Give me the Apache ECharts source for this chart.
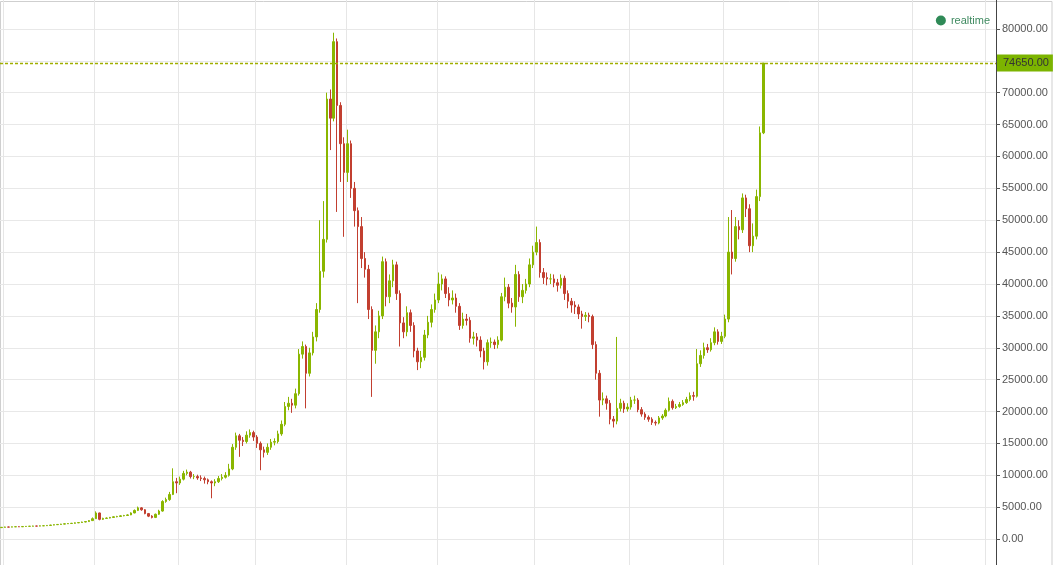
<!DOCTYPE html>
<html>
<head>
<meta charset="utf-8">
<script src="https://cdn.jsdelivr.net/npm/echarts@6/dist/echarts.min.js"></script>
<style>
html,body{margin:0;padding:0;background:#fff;overflow:hidden;width:1055px;height:565px;}
#chart{position:absolute;left:0;top:-3px;width:1055px;height:574px;}
</style>
</head>
<body>
<div id="chart"></div>
<script>
// ---- data ----
const seriesName = 'realtime';
const firstOpen = 1800;
const closes = [
1850,1900,1880,1920,1950,1930,1980,2000,2020,2050,
2040,2080,2100,2150,2200,2260,2300,2350,2400,2450,
2480,2550,2600,2680,2750,2900,3200,4100,3100,3250,
3300,3400,3500,3550,3650,3700,3800,4100,4500,4900,
4600,4000,3600,3400,3900,4400,5900,6200,7000,9000,
8800,9400,10300,10500,9800,9800,9600,9500,9300,9000,
8800,9000,9500,9700,10000,11000,14400,16200,15500,15300,
16300,16700,16000,15000,14000,13600,14400,15200,15300,16500,
18000,20800,21300,21000,22800,29000,30200,26000,29200,31700,
36000,42000,47000,69000,66000,78000,68000,62000,57500,62000,
55000,51500,49000,44000,42300,36000,29600,32500,35000,43500,
38000,40500,43000,38500,33900,32500,35500,33500,29500,27800,
28500,32000,34000,36000,37500,40000,40800,38500,37500,37800,
36500,33500,34500,34300,31500,31700,31200,29500,27800,30800,
30900,30500,31200,38000,39500,37000,36400,41500,38000,39000,
40000,43000,45000,46500,41800,41000,40800,40800,40200,39800,
40900,38500,37300,36700,36400,35300,34900,35100,34900,30500,
26000,21800,22000,21300,18800,18500,20500,21300,20400,20700,
21800,21800,20300,19600,19100,18800,18300,18200,19000,19300,
20200,21600,20600,20800,21100,21400,21900,22500,22400,27500,
28800,30000,29700,30800,32500,31000,31800,34500,45000,44000,
49000,48500,53500,51800,46000,47500,53700,63700,74650
];
const highs = [
1900,1950,1940,1960,1990,1990,2020,2050,2070,2100,
2090,2130,2150,2200,2250,2310,2360,2400,2460,2510,
2540,2610,2660,2740,2820,2980,3400,4350,4150,3350,
3400,3480,3580,3650,3750,3800,3900,4200,4650,5100,
5000,4700,4100,3750,4000,4600,6100,6500,7400,11100,
9600,9800,10700,10900,10700,10200,10100,10000,9800,9500,
9200,9400,9900,10200,10500,11800,14900,16700,16500,16000,
16900,17200,17000,16300,15300,14500,15000,15700,15800,17000,
18600,21500,22300,22000,23600,29800,31000,30500,30000,32500,
37000,50000,53000,70000,70500,79400,78500,68500,63000,64200,
62500,56000,52000,50500,45000,43000,36500,33500,35800,44300,
44000,41500,43800,43500,39000,34800,36500,36000,34000,30000,
29500,32800,35000,36800,38500,41800,41500,41200,39500,39000,
38500,37000,35500,35300,34800,32500,32300,31800,30000,31300,
31600,31300,31800,38600,41000,40000,37800,43000,42000,40000,
40800,44000,46000,49000,47000,42500,41800,41600,41500,40800,
41500,41300,39000,37800,37300,36800,35800,35600,35500,35200,
31000,26500,23000,22500,21800,19300,31700,22000,21700,21300,
22300,22500,22100,20700,19900,19400,19100,18600,19300,19600,
20500,22200,21900,21200,21500,21800,22300,23000,23100,29800,
29600,30800,30600,31500,33200,32900,32500,35200,50500,51600,
50500,50000,54200,54000,52500,49500,54800,64700,74650
];
const lows = [
1780,1820,1850,1860,1900,1900,1910,1960,1980,2000,
2010,2020,2050,2080,2120,2170,2230,2270,2320,2370,
2410,2440,2510,2560,2640,2700,2850,3150,2950,3000,
3180,3250,3350,3420,3480,3580,3650,3750,4050,4400,
4450,3900,3450,3250,3300,3800,4300,5700,6000,6900,
7200,8500,9200,10000,9500,9400,9300,9100,8700,8600,
6400,8300,8800,9200,9500,9800,10800,14000,12900,14600,
15000,15900,15400,14300,10800,12800,13200,14000,14700,15000,
16200,17700,20200,19800,20500,22500,28300,20500,25500,28800,
31000,35500,41000,46500,61000,65500,51300,56000,47400,56000,
53500,49000,37000,42500,41000,34500,22300,27500,31500,34500,
36500,37000,39500,37500,30200,31500,31800,32500,28500,26500,
26800,28000,31500,33200,35500,37000,39000,37800,36500,36800,
35500,32800,33000,33500,30800,30500,30200,28500,26600,27200,
30000,29800,29900,31000,37300,36200,35500,33300,37200,37000,
38500,39500,42500,44500,41000,40000,39800,40000,39500,38800,
39300,37500,36200,35500,35300,34500,33000,34200,34000,29800,
25000,19200,21000,20300,18000,17500,18000,20000,19800,20000,
20300,21200,19900,19200,18700,18400,17900,17800,18000,18700,
19100,20000,20300,20400,20600,20900,21200,21600,21700,22200,
27000,28300,29200,29400,30400,30500,30600,31500,34000,41500,
43500,47000,48000,50500,45000,45000,47000,53000,63500
];
const totalSlots = 285;               // width of the time axis in candle slots
const yTicks = {min: -5000, max: 85000, step: 5000};
const lastPrice = 74650;
const splitSlots = [1, 27, 51, 73, 99, 125, 153, 180, 207, 234, 261, 282];

// ---- build ----
const opens = [firstOpen].concat(closes.slice(0, closes.length - 1));
const categories = [];
for (let i = 0; i < totalSlots; i++) categories.push(String(i));
const ohlc = closes.map((c, i) => [opens[i], c, lows[i], highs[i]]);
const splitSet = new Set(splitSlots);
const FONT = 'Liberation Sans, Arial, sans-serif';

const chart = echarts.init(document.getElementById('chart'), null, {renderer: 'canvas'});
chart.setOption({
  animation: false,
  backgroundColor: '#ffffff',
  textStyle: {fontFamily: FONT},
  graphic: [{
    type: 'rect', silent: true, z: 0,
    shape: {x: 0.5, y: 4.5, width: 1051.5, height: 600},
    style: {fill: 'none', stroke: '#cfcfcf', lineWidth: 1}
  }],
  legend: {
    data: [{name: seriesName, icon: 'circle', itemStyle: {color: '#2f8a57', borderWidth: 0}}],
    right: 60, top: 13,
    itemWidth: 10, itemHeight: 10, itemGap: 4,
    textStyle: {color: '#3f8a60', fontSize: 11, fontFamily: FONT}
  },
  grid: {left: 0, right: 59, top: 0, bottom: 0, containLabel: false},
  xAxis: {
    type: 'category',
    data: categories,
    boundaryGap: true,
    axisLine: {show: false},
    axisTick: {show: false},
    axisLabel: {show: false},
    splitLine: {
      show: true,
      interval: function (index) { return splitSet.has(index); },
      lineStyle: {color: '#e6e6e6', width: 1}
    }
  },
  yAxis: {
    type: 'value',
    position: 'right',
    min: yTicks.min, max: yTicks.max, interval: yTicks.step,
    axisLine: {show: true, lineStyle: {color: '#444', width: 1}},
    axisTick: {show: true, length: 4, lineStyle: {color: '#555'}},
    axisLabel: {
      color: '#555', fontSize: 11, margin: 6, fontFamily: FONT,
      formatter: function (v) { return (v < 0 || v > 80000) ? '' : v.toFixed(2); }
    },
    splitLine: {show: true, lineStyle: {color: '#e8e8e8', width: 1}}
  },
  series: [{
    name: seriesName,
    type: 'candlestick',
    data: ohlc,
    barWidth: 2,
    itemStyle: {
      color: '#8ab600', color0: '#c23f30',
      borderColor: '#8ab600', borderColor0: '#c23f30',
      borderWidth: 1
    },
    markLine: {
      silent: true,
      symbol: ['none', 'none'],
      data: [{yAxis: lastPrice}],
      lineStyle: {color: '#a0ae00', type: [3, 2], width: 1.3, opacity: 1},
      label: {
        show: true, position: 'end', distance: 1,
        formatter: function () { return lastPrice.toFixed(2); },
        backgroundColor: '#7cb400', color: '#333',
        fontSize: 11, lineHeight: 11, padding: [3, 4, 3, 6],
        fontFamily: FONT
      }
    }
  }]
});
</script>
</body>
</html>
